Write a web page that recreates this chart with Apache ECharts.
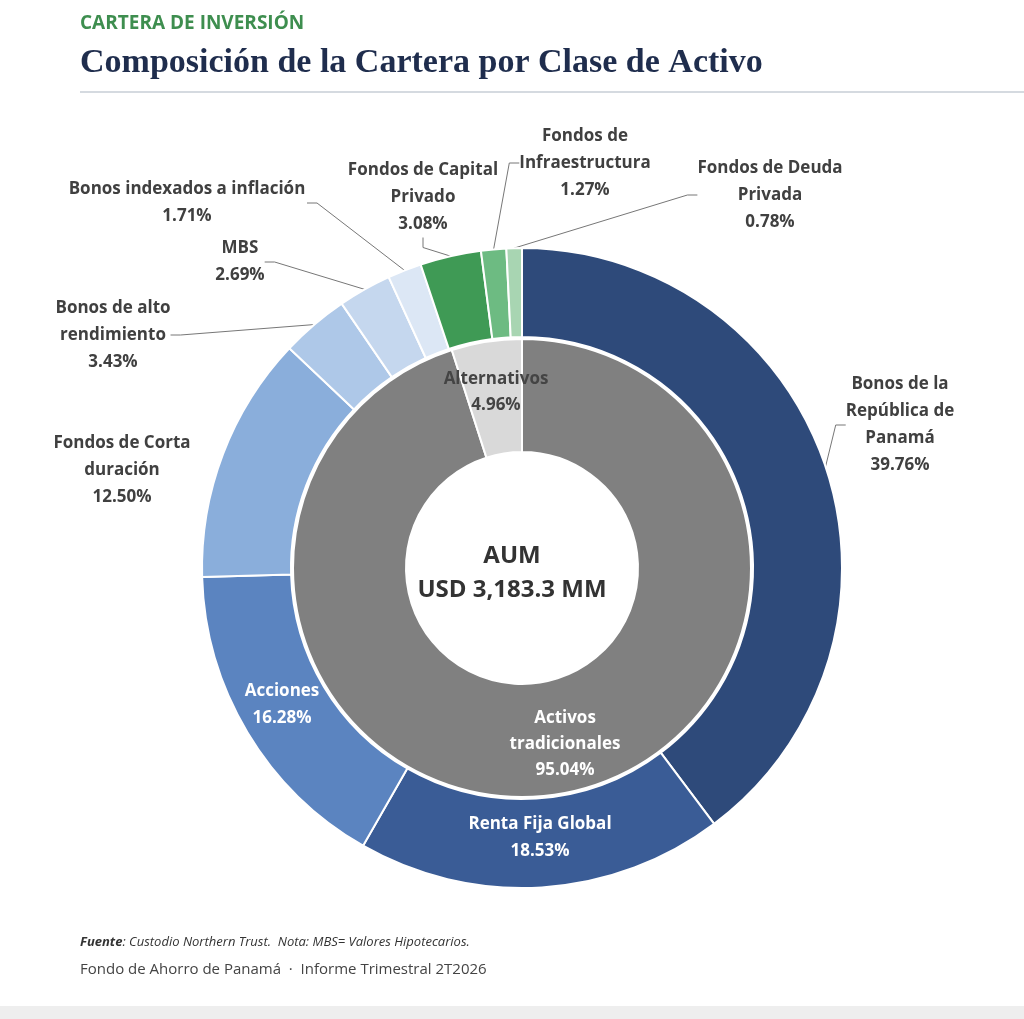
<!DOCTYPE html>
<html><head><meta charset="utf-8">
<script src="https://cdn.jsdelivr.net/npm/echarts@6/dist/echarts.min.js"></script>
<style>html,body{margin:0;padding:0;background:#fff}#c{width:1024px;height:1019px}</style>
</head><body><div id="c"></div>
<script>
const outerNames = ['Bonos de la\nRepública de\nPanamá','Renta Fija Global','Acciones','Fondos de Corta\nduración','Bonos de alto\nrendimiento','MBS','Bonos indexados a inflación','Fondos de Capital\nPrivado','Fondos de\nInfraestructura','Fondos de Deuda\nPrivada'];
const outerValues = [39.76,18.53,16.28,12.50,3.43,2.69,1.71,3.08,1.27,0.78];
const innerNames = ['Activos\ntradicionales','Alternativos'];
const innerValues = [95.04,4.96];
const outerColors = ['#2e4a7a','#3a5c96','#5b84c0','#8aaedb','#aec8e8','#c5d7ee','#dce7f5','#3f9a55','#6dbb82','#a8d5b2'];
const innerColors = ['#808080','#d9d9d9'];
const outerLabelPos = [[900,425],[540,838],[282,705],[122,470],[113,335],[240,262],[187,203],[423,197],[585,163],[770,195]];
const innerLabelPos = [[565,744],[496,392]];
const insideOuter = [1,2];
const chart = echarts.init(document.getElementById('c'));
const fmt = p => p.name + '\n' + p.value.toFixed(2) + '%';
chart.setOption({
  backgroundColor:'#fff',
  graphic:[
    {type:'text',left:80,top:14,style:{text:'CARTERA DE INVERSIÓN',fill:'#3e8e4f',font:'bold 19px "Open Sans"'}},
    {type:'text',left:80,top:46,style:{text:'Composición de la Cartera por Clase de Activo',fill:'#1f2d4d',font:'bold 34px "Liberation Serif"'}},
    {type:'rect',shape:{x:80,y:91,width:944,height:2},style:{fill:'#d5dae0'}},
    {type:'text',left:80,top:936,style:{rich:{b:{font:'bold italic 13px "Open Sans"',fill:'#333'},i:{font:'italic 13px "Open Sans"',fill:'#333'}},text:'{b|Fuente}{i|: Custodio Northern Trust.  Nota: MBS= Valores Hipotecarios.}'}},
    {type:'text',left:80,top:962,style:{text:'Fondo de Ahorro de Panamá  ·  Informe Trimestral 2T2026',fill:'#444',font:'15px "Open Sans"'}},
    {type:'rect',shape:{x:0,y:1006,width:1024,height:13},style:{fill:'#eeeeee'}},
    {type:'text',x:512,y:573,style:{text:'AUM\nUSD 3,183.3 MM',align:'center',verticalAlign:'middle',fill:'#333',font:'bold 24px "Open Sans"',lineHeight:34}}
  ],
  series:[
    {type:'pie',center:[522,568],radius:[116,229],startAngle:90,clockwise:true,
     itemStyle:{borderColor:'#fff',borderWidth:2},
     data:innerNames.map((n,i)=>({name:n,value:innerValues[i],itemStyle:{color:innerColors[i]},
       label:{color:i===0?'#fff':'#444'}})),
     label:{show:true,position:'inside',formatter:fmt,fontWeight:'bold',fontSize:17,fontFamily:'Open Sans',lineHeight:26,align:'center',overflow:'none'},
     labelLine:{show:false},
     labelLayout:p=>({x:innerLabelPos[p.dataIndex][0],y:innerLabelPos[p.dataIndex][1],align:'center',verticalAlign:'middle'}),
     emphasis:{disabled:true}},
    {type:'pie',center:[522,568],radius:[231,320],startAngle:90,clockwise:true,
     itemStyle:{borderColor:'#fff',borderWidth:2},
     data:outerNames.map((n,i)=>({name:n,value:outerValues[i],itemStyle:{color:outerColors[i]},
       label:Object.assign({color:insideOuter.includes(i)?'#fff':'#404040'}, i===6?{width:240}:{}),
       labelLine:{show:!insideOuter.includes(i)&&i!==3}})),
     label:{show:true,position:'outside',formatter:fmt,fontWeight:'bold',fontSize:17,fontFamily:'Open Sans',lineHeight:27,align:'center',overflow:'none'},
     labelLine:{show:true,length:20,length2:10,lineStyle:{color:'#777',width:1}},
     labelLayout:p=>({x:outerLabelPos[p.dataIndex][0],y:outerLabelPos[p.dataIndex][1],align:'center',verticalAlign:'middle'}),
     emphasis:{disabled:true}}
  ]
});
</script></body></html>
